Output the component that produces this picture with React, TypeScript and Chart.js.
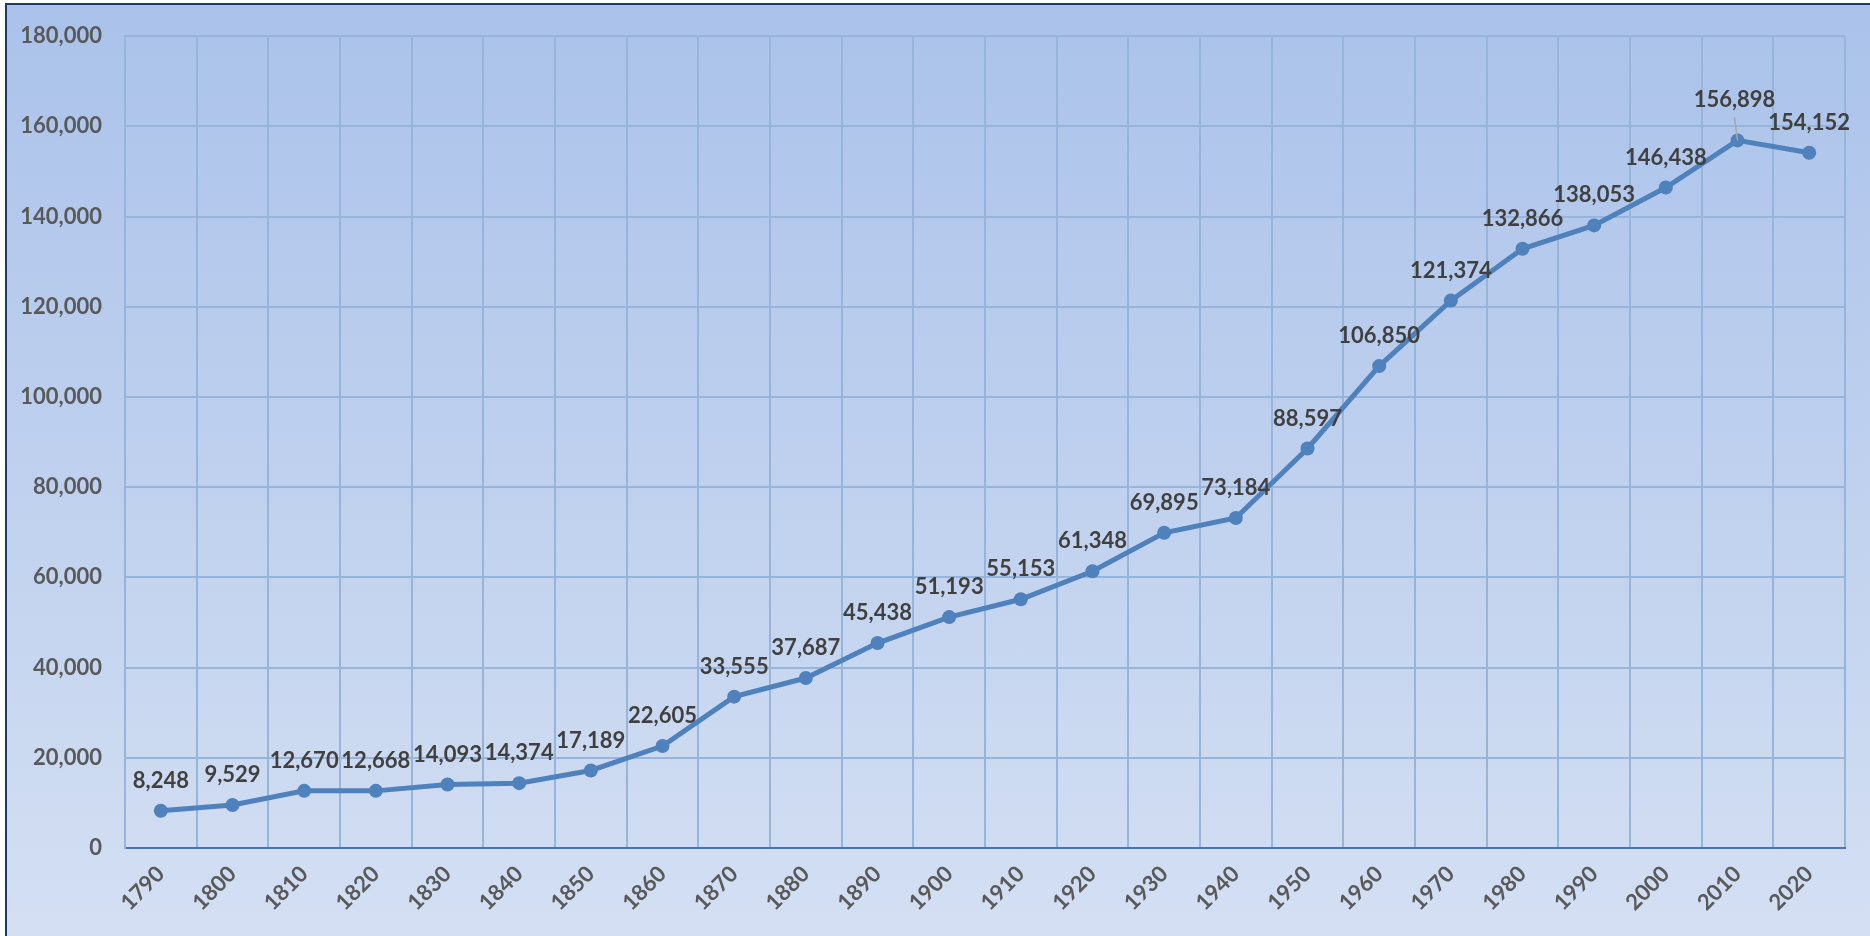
import React, { useEffect, useRef } from "react";
import { Chart, registerables } from "chart.js";

Chart.register(...registerables);

const years: string[] = [
  "1790", "1800", "1810", "1820", "1830", "1840", "1850", "1860", "1870", "1880", "1890", "1900",
  "1910", "1920", "1930", "1940", "1950", "1960", "1970", "1980", "1990", "2000", "2010", "2020",
];

const population: number[] = [
  8248, 9529, 12670, 12668, 14093, 14374, 17189, 22605, 33555, 37687, 45438, 51193,
  55153, 61348, 69895, 73184, 88597, 106850, 121374, 132866, 138053, 146438, 156898, 154152,
];

const yMin = 0;
const yMax = 180000;
const yStep = 20000;

const LINE_BLUE = "#4f81bd";
const GRID = "#97b4da";
const AXIS_LINE = "#4a74b0";
const TICK_COLOR = "#595959";
const LABEL_COLOR = "#404040";
const FONT_FAMILY = "Lato, 'Open Sans', sans-serif";
const LEADER_INDEX = 22;

const fmt = (v: number) => v.toLocaleString("en-US");

const valueLabelPlugin = {
  id: "valueLabels",
  afterDatasetsDraw(chart: any) {
    const ctx = chart.ctx as CanvasRenderingContext2D;
    const meta = chart.getDatasetMeta(0);
    ctx.save();
    ctx.font = `bold 22px ${FONT_FAMILY}`;
    ctx.fillStyle = LABEL_COLOR;
    ctx.textAlign = "center";
    ctx.textBaseline = "middle";
    meta.data.forEach((pt: any, i: number) => {
      const v = population[i];
      if (i === LEADER_INDEX) {
        ctx.save();
        ctx.strokeStyle = "#a6a6a6";
        ctx.lineWidth = 1.5;
        ctx.beginPath();
        ctx.moveTo(pt.x - 3, pt.y - 23);
        ctx.lineTo(pt.x, pt.y);
        ctx.stroke();
        ctx.restore();
        ctx.fillText(fmt(v), pt.x - 3, pt.y - 40);
      } else {
        ctx.fillText(fmt(v), pt.x, pt.y - 30);
      }
    });
    ctx.restore();
  },
};

export default function App() {
  const canvasRef = useRef<HTMLCanvasElement | null>(null);

  useEffect(() => {
    if (!canvasRef.current) return;
    const chart = new Chart(canvasRef.current, {
      type: "line",
      data: {
        labels: years,
        datasets: [
          {
            data: population,
            borderColor: LINE_BLUE,
            backgroundColor: LINE_BLUE,
            borderWidth: 5,
            pointRadius: 7,
            pointBorderWidth: 0,
            pointBackgroundColor: LINE_BLUE,
            tension: 0,
            fill: false,
          },
        ],
      },
      options: {
        responsive: false,
        animation: false,
        devicePixelRatio: 1,
        layout: { padding: { top: 33, right: 25, left: 0, bottom: 0 } },
        plugins: {
          legend: { display: false },
          tooltip: { enabled: false },
          title: { display: false },
        },
        scales: {
          x: {
            type: "category",
            offset: true,
            grid: { offset: true, color: GRID, lineWidth: 2, drawTicks: false },
            border: { display: true, color: AXIS_LINE, width: 2 },
            ticks: {
              maxRotation: 45,
              minRotation: 45,
              autoSkip: false,
              padding: 13,
              color: TICK_COLOR,
              font: { family: FONT_FAMILY, size: 22, weight: "bold" },
            },
            afterFit(scale: any) {
              scale.height = 88;
            },
          },
          y: {
            min: yMin,
            max: yMax,
            grid: { color: GRID, lineWidth: 2, drawTicks: false },
            border: { display: true, color: GRID, width: 2 },
            ticks: {
              stepSize: yStep,
              padding: 23,
              color: TICK_COLOR,
              font: { family: FONT_FAMILY, size: 22, weight: "bold" },
              callback: (v: any) => fmt(Number(v)),
            },
            afterFit(scale: any) {
              scale.width = 125;
            },
          },
        },
      },
      plugins: [valueLabelPlugin],
    });
    return () => chart.destroy();
  }, []);

  return (
    <div
      style={{
        position: "absolute",
        left: 0,
        top: 0,
        width: 1870,
        height: 936,
        overflow: "hidden",
      }}
    >
      <div
        style={{
          position: "absolute",
          left: 5,
          top: 3,
          width: 1900,
          height: 960,
          borderTop: "2px solid #1f3864",
          borderLeft: "2px solid #1f3864",
          background: "linear-gradient(to bottom, #aac2ea 0%, #d5e0f3 100%)",
        }}
      />
      <canvas
        ref={canvasRef}
        width={1870}
        height={936}
        style={{ position: "absolute", left: 0, top: 0, width: 1870, height: 936 }}
      />
    </div>
  );
}
